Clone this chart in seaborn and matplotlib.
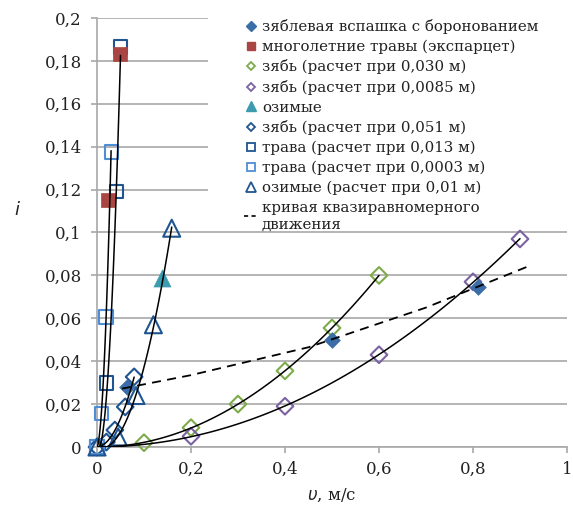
import numpy as np
import matplotlib
matplotlib.use('Agg')
import matplotlib.pyplot as plt
from matplotlib.lines import Line2D
from matplotlib.patches import Rectangle
from matplotlib.ticker import FuncFormatter
import seaborn as sns

# experimental points
v_zyab_exp = [0.064, 0.5, 0.81]
i_zyab_exp = [0.028, 0.050, 0.0746]
v_trava_exp = [0.024, 0.049]
i_trava_exp = [0.115, 0.183]
v_ozim_exp = [0.138]
i_ozim_exp = [0.079]

# calculated points
v_z030 = [0.1, 0.2, 0.3, 0.4, 0.5, 0.6]
i_z030 = [0.002, 0.009, 0.020, 0.0355, 0.0555, 0.080]
v_z0085 = [0.2, 0.4, 0.6, 0.8, 0.9]
i_z0085 = [0.005, 0.019, 0.043, 0.077, 0.097]
v_z051 = [0.0, 0.02, 0.038, 0.06, 0.079]
i_z051 = [0.0, 0.0023, 0.0079, 0.0187, 0.0327]
v_t013 = [0.0, 0.021, 0.042, 0.050]
i_t013 = [0.0, 0.0298, 0.119, 0.1865]
v_t0003 = [0.0, 0.010, 0.019, 0.030]
i_t0003 = [0.0, 0.0158, 0.0606, 0.1375]
v_oz01 = [0.0, 0.045, 0.083, 0.12, 0.159]
i_oz01 = [0.0, 0.0047, 0.024, 0.057, 0.102]

# quasi-uniform motion curve
v_kvazi = [0.053, 0.2, 0.45, 0.7, 0.915]
i_kvazi = [0.0272, 0.0335, 0.0465, 0.065, 0.084]

labels = ['зяблевая вспашка с боронованием',
          'многолетние травы (экспарцет)',
          'зябь (расчет при 0,030 м)',
          'зябь (расчет при 0,0085 м)',
          'озимые',
          'зябь (расчет при 0,051 м)',
          'трава (расчет при 0,013 м)',
          'трава (расчет при 0,0003 м)',
          'озимые (расчет при 0,01 м)',
          'кривая квазиравномерного\nдвижения']

c_blue = '#3b6ea8'
c_brown = '#a94643'
c_green = '#7dab4a'
c_purple = '#7b62a3'
c_teal = '#3c9bae'
c_dark = '#1f5591'
c_light = '#4f8ed4'

sns.set_theme(style='white')
plt.rcParams['font.family'] = ['DejaVu Serif']

fig = plt.figure(figsize=(5.73, 5.08), dpi=100)
ax = fig.add_axes([97/573, 1-447/508, 470/573, 429/508])

# white area behind the legend, hides the grid there
fig.patches.append(Rectangle((208/573, 1-226/508), 1-208/573, 221/508,
                             transform=fig.transFigure, facecolor='white',
                             edgecolor='none', zorder=1))

# trend lines: quadratic fit through the points and the origin
for vs, is_ in [(v_z030, i_z030), (v_z0085, i_z0085), (v_z051, i_z051),
                (v_t013, i_t013), (v_t0003, i_t0003), (v_oz01, i_oz01)]:
    vv = np.array([0.0] + list(vs))
    ii = np.array([0.0] + list(is_))
    coef = np.polyfit(vv, ii, 2)
    xs = np.linspace(0, vv.max(), 120)
    sns.lineplot(x=xs, y=np.polyval(coef, xs), color='black', lw=1.1,
                 ax=ax, estimator=None, sort=False, zorder=5)

sns.lineplot(x=v_kvazi, y=i_kvazi, color='black', lw=1.3, ax=ax,
             estimator=None, sort=False, zorder=5, linestyle=(0, (5, 3.5)))

def pts(x, y, marker, s, c, filled):
    if filled:
        sns.scatterplot(x=x, y=y, marker=marker, s=s, color=c, edgecolor=c,
                        linewidth=0.5, ax=ax, zorder=4, clip_on=False)
    else:
        sns.scatterplot(x=x, y=y, marker=marker, s=s, facecolor='none',
                        edgecolor=c, linewidth=1.5, ax=ax, zorder=4, clip_on=False)

pts(v_z030, i_z030, 'D', 72, c_green, False)
pts(v_z0085, i_z0085, 'D', 72, c_purple, False)
pts(v_z051, i_z051, 'D', 72, c_dark, False)
pts(v_t013, i_t013, 's', 90, c_dark, False)
pts(v_t0003, i_t0003, 's', 90, c_light, False)
pts(v_oz01, i_oz01, '^', 150, c_dark, False)
pts(v_zyab_exp, i_zyab_exp, 'D', 64, c_blue, True)
pts(v_trava_exp, i_trava_exp, 's', 100, c_brown, True)
pts(v_ozim_exp, i_ozim_exp, '^', 150, c_teal, True)

ax.set_xlim(0, 1)
ax.set_ylim(0, 0.2)
ax.set_xticks([0, 0.2, 0.4, 0.6, 0.8, 1])
ax.set_yticks(np.arange(0, 0.201, 0.02))
fmt = FuncFormatter(lambda x, p: ('%g' % round(x, 3)).replace('.', ','))
ax.xaxis.set_major_formatter(fmt)
ax.yaxis.set_major_formatter(fmt)
ax.grid(axis='y', color='#a8a8a8', lw=1.2)
ax.set_axisbelow(True)
for s in ['top', 'right']:
    ax.spines[s].set_visible(False)
for s in ['left', 'bottom']:
    ax.spines[s].set_color('#a8a8a8')
    ax.spines[s].set_linewidth(1.2)
ax.tick_params(axis='both', direction='out', length=4, width=1.2,
               color='#a8a8a8', labelsize=12, labelcolor='#222222')
ax.tick_params(axis='y', pad=7, left=True)
ax.tick_params(axis='x', pad=6, bottom=True)

ax.set_xlabel('$\\upsilon$, м/с', fontsize=12, color='#222222', labelpad=6)
ax.set_ylabel('$i$', fontsize=13, color='#222222', rotation=0, va='center')
ax.yaxis.set_label_coords(-0.17, 0.552)

handles = [
    Line2D([], [], ls='none', marker='D', ms=4.8, mfc=c_blue, mec=c_blue),
    Line2D([], [], ls='none', marker='s', ms=6.2, mfc=c_brown, mec=c_brown),
    Line2D([], [], ls='none', marker='D', ms=4.5, mfc='none', mec=c_green, mew=1.3),
    Line2D([], [], ls='none', marker='D', ms=4.5, mfc='none', mec=c_purple, mew=1.3),
    Line2D([], [], ls='none', marker='^', ms=7, mfc=c_teal, mec=c_teal),
    Line2D([], [], ls='none', marker='D', ms=4.5, mfc='none', mec=c_dark, mew=1.3),
    Line2D([], [], ls='none', marker='s', ms=5.8, mfc='none', mec=c_dark, mew=1.3),
    Line2D([], [], ls='none', marker='s', ms=5.8, mfc='none', mec=c_light, mew=1.3),
    Line2D([], [], ls='none', marker='^', ms=7, mfc='none', mec=c_dark, mew=1.3),
    Line2D([], [], color='black', lw=1.2, ls=(0, (2.5, 2))),
]
leg = fig.legend(handles, labels, loc='upper left',
                 bbox_to_anchor=(244/573, 1-19/508), frameon=False,
                 fontsize=10.8, handlelength=0.95, handletextpad=0.25,
                 labelspacing=0.37, borderaxespad=0, borderpad=0)
for t in leg.get_texts():
    t.set_color('#222222')
    t.set_linespacing(1.3)

fig.savefig('out.png', dpi=100)
